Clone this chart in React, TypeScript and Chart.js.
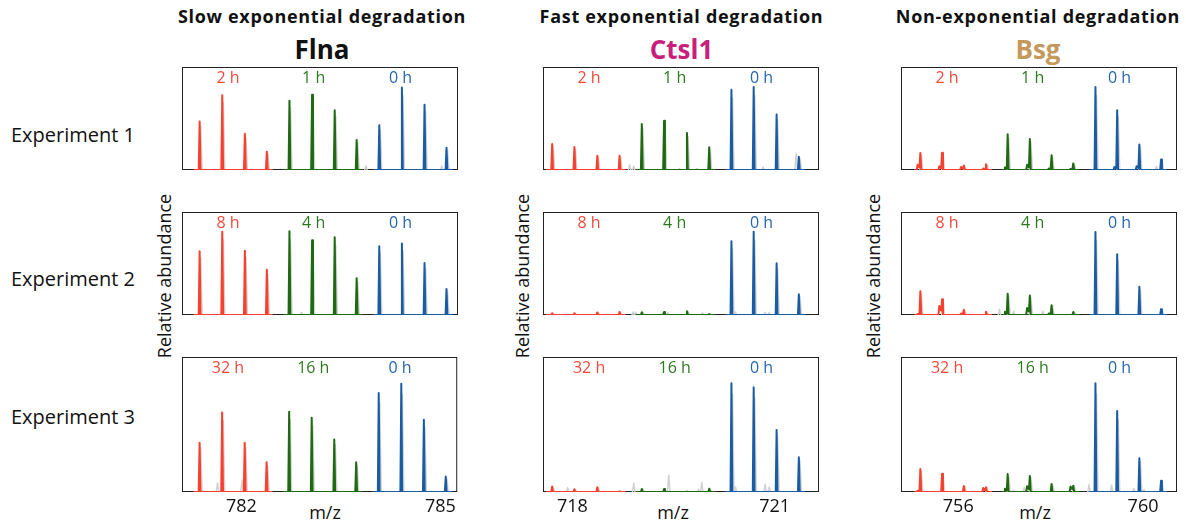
import React, { useEffect, useRef } from "react";
import { Chart, registerables } from "chart.js";

Chart.register(...registerables);

// ---------- text ----------
const CATEGORY_TITLES = ["Slow exponential degradation", "Fast exponential degradation", "Non-exponential degradation"];
const GENES = ["Flna", "Ctsl1", "Bsg"];
const EXPERIMENTS = ["Experiment 1", "Experiment 2", "Experiment 3"];
const TIME_LABELS = [
  ["2 h", "1 h", "0 h"],
  ["8 h", "4 h", "0 h"],
  ["32 h", "16 h", "0 h"],
];
const Y_TITLE = "Relative abundance";
const X_TITLE = "m/z";

// ---------- Flna ----------
const FLNA_MZ = [781.37, 781.71, 782.05, 782.38, 782.72, 783.06, 783.40, 783.73, 784.07, 784.41, 784.75, 785.08];
const FLNA_RANGE = [781.105, 785.253];
const FLNA_TICKS = [782, 785];
const FLNA_E1 = [47, 72.6, 35.1, 17.8, 67.2, 73.1, 58.1, 29.2, 43.5, 80, 63.3, 21.5];
const FLNA_E2 = [62, 80.8, 62.3, 44, 81.3, 72.5, 75.5, 35.8, 66.8, 69.5, 50.5, 25.3];
const FLNA_E3 = [36.5, 58.8, 36.5, 22, 59.5, 55, 38.8, 22, 73.3, 80.2, 53.6, 11.4];
const FLNA_GRAY_MZ_E1 = [783.87, 785.01];
const FLNA_GRAY_E1 = [4.2, 4.2];
const FLNA_GRAY_MZ_E2 = [782.9];
const FLNA_GRAY_E2 = [2.5];
const FLNA_GRAY_MZ_E3 = [781.64, 782.01];
const FLNA_GRAY_E3 = [6.7, 8.7];

// ---------- Ctsl1 ----------
const CTSL1_MZ = [717.70, 718.03, 718.37, 718.70, 719.03, 719.36, 719.70, 720.03, 720.36, 720.69, 721.03, 721.36];
const CTSL1_RANGE = [717.564, 721.659];
const CTSL1_TICKS = [718, 721];
const CTSL1_E1 = [25.2, 22.4, 13.8, 13.8, 44.7, 47.9, 36, 22, 78, 80.5, 54, 12.8];
const CTSL1_E2 = [1.7, 1.7, 2.5, 3, 2.7, 3, 3.7, 1, 71.6, 80.8, 50.2, 20.1];
const CTSL1_E3 = [4, 2, 3.5, 0.5, 2.2, 2.2, 0.3, 2.4, 80.5, 77.5, 46, 25.7];
const CTSL1_GRAY_MZ_E1 = [718.85, 718.91, 719.59, 719.85, 720.83, 721.32];
const CTSL1_GRAY_E1 = [5, 3.7, 1.5, 1.5, 3, 16.3];
const CTSL1_GRAY_MZ_E2 = [718.9, 718.94, 719.42, 719.93, 720.42, 720.86, 720.92, 721.43];
const CTSL1_GRAY_E2 = [3, 3, 2.2, 2.2, 3, 2.7, 2.2, 1];
const CTSL1_GRAY_MZ_E3 = [717.93, 718.91, 719.43, 719.87, 719.92, 720.42, 720.86, 720.92];
const CTSL1_GRAY_E3 = [3.2, 6.4, 12.6, 2, 7.2, 3.7, 5.7, 3.7];

// ---------- Bsg ----------
const BSG_MZ = [755.18, 755.65, 756.12, 756.60, 757.07, 757.55, 758.02, 758.49, 758.97, 759.44, 759.92, 760.39];
const BSG_RANGE = [754.761, 760.735];
const BSG_TICKS = [756, 760];
const BSG_E1 = [16.5, 16.8, 4.4, 5.7, 34.6, 30.1, 14.3, 6.4, 80.5, 58, 24.7, 10.1];
const BSG_E2 = [23.1, 15.4, 5, 3.2, 20.7, 18.9, 9.5, 3, 80.6, 59, 27.4, 5.7];
const BSG_E3 = [17, 13.6, 4.4, 3.5, 13.3, 11.9, 5.9, 4.7, 80.5, 60, 25, 8.4];
const BSG_SHOULDER_E1 = [5, 3.7, 3, 1.5, 2.5, 5, 1.5, 1, 0, 3, 3.7, 0];
const BSG_SHOULDER_E2 = [1, 8.7, 1.5, 0, 3.2, 6.7, 1.5, 0, 0, 0, 0, 0];
const BSG_SHOULDER_E3 = [1, 0, 0, 3, 2.5, 4.2, 0, 4, 0, 0, 0, 0];
const BSG_GRAY_MZ_E1 = [760.29];
const BSG_GRAY_E1 = [3.7];
const BSG_GRAY_MZ_E2 = [756.89, 757.2, 757.83];
const BSG_GRAY_E2 = [5.5, 3.7, 3.7];
const BSG_GRAY_MZ_E3 = [757.2, 757.43, 758.83, 759.32, 759.8, 760.02];
const BSG_GRAY_E3 = [1.2, 3.5, 5.4, 5, 2.5, 1.7];

// ---------- styles / layout ----------
const GENE_COLORS = ["#111111", "#C8207A", "#C49A5C"];
const SERIES_COLORS = ["#F8402E", "#1E6A10", "#1A5CA4"];
const LABEL_COLORS = ["#F24A3A", "#2C7A1E", "#2566AE"];
const GRAY = "#d2d2d2";
const FONT = '"Open Sans", "DejaVu Sans", sans-serif';
const PLOT_W = 276;
const PLOT_H = 135;
const PAD = 2;
const AXIS_H = 32;
const COL_LEFT = [182, 543, 901];
const ROW_TOP = [67, 212, 357];
const COL_CENTER = [322, 681.5, 1038];
const YTITLE_X = [164, 522, 873];
const MZ_X = [325, 673, 1035];
const ROW_BASELINE = [142.3, 287, 425];
const LABEL_FRACS = [0.167, 0.477, 0.792];
const SHOULDER_OFFSET = 0.06;

type PanelSpec = {
  mz: number[];
  range: number[];
  ticks: number[];
  heights: number[][];
  shoulders: (number[] | null)[];
  grayMz: number[][];
  gray: number[][];
};

const PANELS: PanelSpec[] = [
  {
    mz: FLNA_MZ, range: FLNA_RANGE, ticks: FLNA_TICKS,
    heights: [FLNA_E1, FLNA_E2, FLNA_E3],
    shoulders: [null, null, null],
    grayMz: [FLNA_GRAY_MZ_E1, FLNA_GRAY_MZ_E2, FLNA_GRAY_MZ_E3],
    gray: [FLNA_GRAY_E1, FLNA_GRAY_E2, FLNA_GRAY_E3],
  },
  {
    mz: CTSL1_MZ, range: CTSL1_RANGE, ticks: CTSL1_TICKS,
    heights: [CTSL1_E1, CTSL1_E2, CTSL1_E3],
    shoulders: [null, null, null],
    grayMz: [CTSL1_GRAY_MZ_E1, CTSL1_GRAY_MZ_E2, CTSL1_GRAY_MZ_E3],
    gray: [CTSL1_GRAY_E1, CTSL1_GRAY_E2, CTSL1_GRAY_E3],
  },
  {
    mz: BSG_MZ, range: BSG_RANGE, ticks: BSG_TICKS,
    heights: [BSG_E1, BSG_E2, BSG_E3],
    shoulders: [BSG_SHOULDER_E1, BSG_SHOULDER_E2, BSG_SHOULDER_E3],
    grayMz: [BSG_GRAY_MZ_E1, BSG_GRAY_MZ_E2, BSG_GRAY_MZ_E3],
    gray: [BSG_GRAY_E1, BSG_GRAY_E2, BSG_GRAY_E3],
  },
];

type Pt = { x: number; y: number | null };

function groupLine(mzs: number[], hs: number[], ss: number[] | null, hw: number, ext: number): Pt[] {
  const pts: Pt[] = [{ x: mzs[0] - ext, y: 0 }];
  mzs.forEach((m, i) => {
    const s = ss ? ss[i] : 0;
    if (s > 0) {
      pts.push({ x: m - SHOULDER_OFFSET - hw, y: 0 });
      pts.push({ x: m - SHOULDER_OFFSET, y: s });
      pts.push({ x: m - hw, y: s * 0.5 });
    } else {
      pts.push({ x: m - hw, y: 0 });
    }
    pts.push({ x: m, y: hs[i] });
    pts.push({ x: m + hw, y: 0 });
  });
  pts.push({ x: mzs[mzs.length - 1] + ext, y: 0 });
  return pts;
}

function grayLine(spec: PanelSpec, row: number, hw: number): Pt[] {
  const tri: { c: number; h: number; w: number }[] = [];
  spec.mz.forEach((m, i) => tri.push({ c: m + hw * 1.2, h: spec.heights[row][i] * 0.9, w: hw * 1.6 }));
  spec.grayMz[row].forEach((m, i) => tri.push({ c: m, h: spec.gray[row][i], w: hw * 1.4 }));
  tri.sort((a, b) => a.c - b.c);
  const pts: Pt[] = [];
  tri.forEach((t) => {
    pts.push({ x: t.c - t.w, y: 0 }, { x: t.c, y: t.h }, { x: t.c + t.w, y: 0 }, { x: t.c + t.w, y: null });
  });
  return pts;
}

function Panel({ col, row }: { col: number; row: number }) {
  const ref = useRef<HTMLCanvasElement>(null);
  const bottom = row === 2;
  const cw = PLOT_W + 2 * PAD;
  const ch = PLOT_H + PAD + (bottom ? AXIS_H : PAD);

  useEffect(() => {
    const spec = PANELS[col];
    const [xMin, xMax] = spec.range;
    const ppu = PLOT_W / (xMax - xMin);
    const hw = 0.9 / ppu;
    const ext = 6 / ppu;
    const hs = spec.heights[row];
    const ss = spec.shoulders[row];
    const groups = [0, 1, 2].map((g) => {
      const idx = [0, 1, 2, 3].map((k) => g * 4 + k);
      return groupLine(idx.map((i) => spec.mz[i]), idx.map((i) => hs[i]), ss ? idx.map((i) => ss[i]) : null, hw, ext);
    });
    const labels = TIME_LABELS[row];

    const framePlugin = {
      id: "frame",
      beforeDatasetsDraw(chart: any) {
        const { ctx, chartArea: a } = chart;
        ctx.save();
        ctx.strokeStyle = "#222";
        ctx.lineWidth = 1;
        ctx.strokeRect(a.left + 0.5, a.top + 0.5, a.right - a.left - 1, a.bottom - a.top - 1);
        ctx.restore();
      },
      afterDraw(chart: any) {
        const { ctx, chartArea: a } = chart;
        ctx.save();
        ctx.font = `16px ${FONT}`;
        ctx.textAlign = "center";
        ctx.textBaseline = "middle";
        labels.forEach((t, i) => {
          ctx.fillStyle = LABEL_COLORS[i];
          ctx.fillText(t, a.left + LABEL_FRACS[i] * (a.right - a.left), a.top + 11.5);
        });
        ctx.restore();
      },
    };

    const chart = new Chart(ref.current as HTMLCanvasElement, {
      type: "line",
      data: {
        datasets: [
          ...groups.map((g, i) => ({
            label: labels[i],
            data: g,
            borderColor: SERIES_COLORS[i],
            borderWidth: 2,
            borderJoinStyle: "round",
            pointRadius: 0,
            tension: 0,
            fill: false,
            order: 1,
          })),
          {
            label: "raw",
            data: grayLine(spec, row, hw),
            borderColor: GRAY,
            borderWidth: 1.5,
            borderJoinStyle: "round",
            pointRadius: 0,
            tension: 0,
            fill: false,
            spanGaps: false,
            order: 5,
          },
        ] as any,
      },
      options: {
        responsive: false,
        maintainAspectRatio: false,
        devicePixelRatio: 1,
        animation: false,
        events: [],
        layout: { padding: { left: PAD, right: PAD, top: PAD, bottom: bottom ? 0 : PAD } },
        plugins: { legend: { display: false }, tooltip: { enabled: false } },
        scales: {
          x: {
            type: "linear",
            min: xMin,
            max: xMax,
            display: bottom,
            grid: { display: false, drawTicks: false },
            border: { display: false },
            ticks: {
              font: { family: FONT, size: 18 },
              color: "#111",
              padding: 4,
              maxRotation: 0,
              autoSkip: false,
              callback: (v: any) => String(v),
            },
            afterBuildTicks: (s: any) => {
              s.ticks = spec.ticks.map((v) => ({ value: v }));
            },
            afterFit: (s: any) => {
              s.height = AXIS_H;
            },
          },
          y: { min: 0, max: 100, display: false },
        },
      } as any,
      plugins: [framePlugin],
    });
    return () => chart.destroy();
  }, [col, row]);

  return (
    <canvas
      ref={ref}
      width={cw}
      height={ch}
      style={{ position: "absolute", left: COL_LEFT[col] - PAD, top: ROW_TOP[row] - PAD, width: cw, height: ch }}
    />
  );
}

export default function App() {
  return (
    <div
      style={{
        position: "absolute",
        left: 0,
        top: 0,
        width: 1186,
        height: 525,
        background: "#fff",
        fontFamily: FONT,
        color: "#111",
        overflow: "hidden",
      }}
    >
      {CATEGORY_TITLES.map((t, i) => (
        <div
          key={"t" + i}
          style={{
            position: "absolute",
            left: COL_CENTER[i] - 200,
            width: 400,
            top: 7,
            textAlign: "center",
            fontSize: 18,
            lineHeight: "18px",
            fontWeight: 700,
            whiteSpace: "nowrap",
            letterSpacing: 0.7,
          }}
        >
          {t}
        </div>
      ))}
      {GENES.map((g, i) => (
        <div
          key={"g" + i}
          style={{
            position: "absolute",
            left: COL_CENTER[i] - 100,
            width: 200,
            top: 36,
            textAlign: "center",
            fontSize: 26,
            lineHeight: "26px",
            fontWeight: 700,
            color: GENE_COLORS[i],
          }}
        >
          {g}
        </div>
      ))}
      {EXPERIMENTS.map((e, i) => (
        <div
          key={"e" + i}
          style={{
            position: "absolute",
            left: 11,
            top: ROW_BASELINE[i] - 17.8,
            fontSize: 20,
            lineHeight: "20px",
            whiteSpace: "nowrap",
          }}
        >
          {e}
        </div>
      ))}
      {YTITLE_X.map((x, i) => (
        <div
          key={"y" + i}
          style={{
            position: "absolute",
            left: x - 110,
            top: 276 - 12,
            width: 220,
            height: 24,
            lineHeight: "24px",
            fontSize: 18,
            textAlign: "center",
            whiteSpace: "nowrap",
            transform: "rotate(-90deg)",
          }}
        >
          {Y_TITLE}
        </div>
      ))}
      {MZ_X.map((x, i) => (
        <div
          key={"m" + i}
          style={{
            position: "absolute",
            left: x - 40,
            width: 80,
            top: 503,
            textAlign: "center",
            fontSize: 18,
            lineHeight: "18px",
          }}
        >
          {X_TITLE}
        </div>
      ))}
      {[0, 1, 2].map((c) => [0, 1, 2].map((r) => <Panel key={`p${c}${r}`} col={c} row={r} />))}
    </div>
  );
}
